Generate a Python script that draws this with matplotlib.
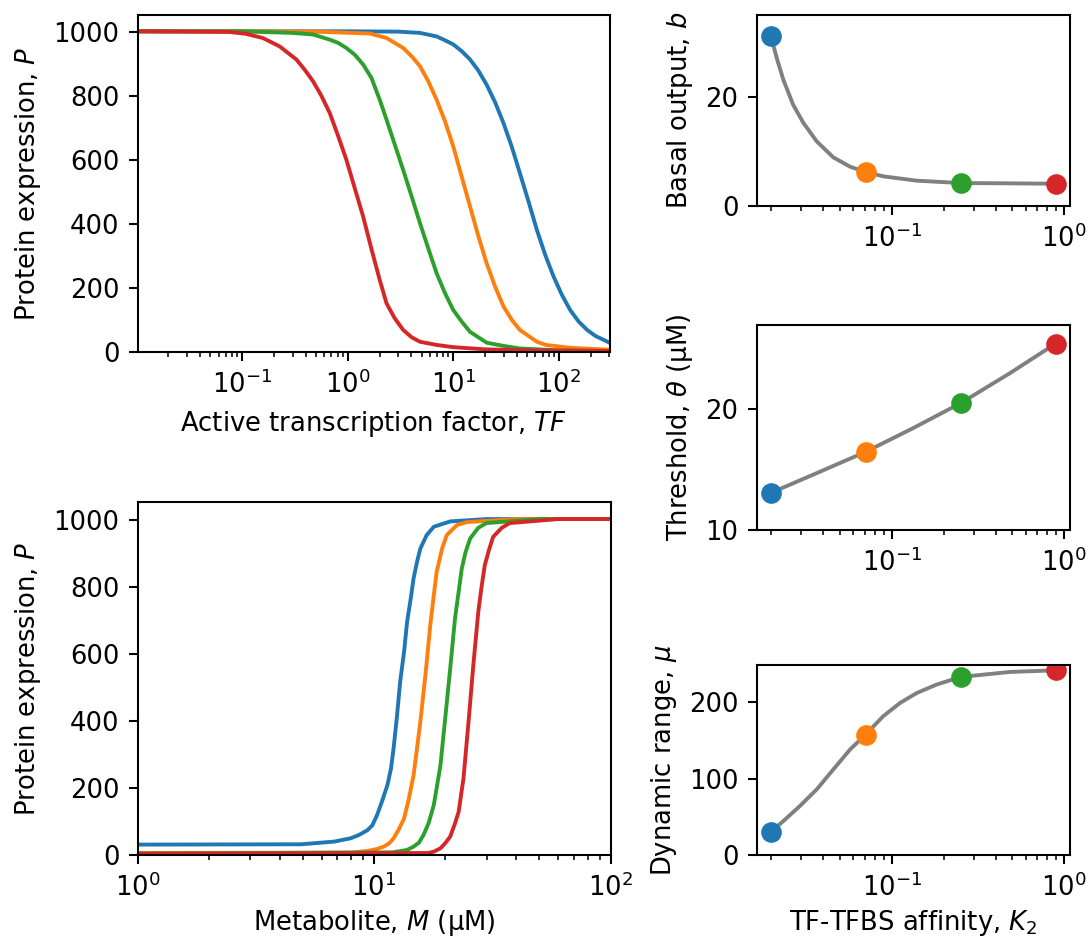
import matplotlib
matplotlib.use("Agg")
import matplotlib.pyplot as plt

# colours of the four TF-TFBS affinities
colors = ["tab:blue", "tab:orange", "tab:green", "tab:red"]

# top left: P vs active TF
tf_blue = [0.01, 0.1, 1.0, 3.0, 4.83, 6.95, 8.34, 10, 12.0, 14.4, 17.3, 20.7, 24.9, 29.9, 35.9, 42.7,
           51.6, 61.8, 74.3, 89.0, 107, 128, 154, 185, 222, 302]
p_tf_blue = [1003, 1003, 1003, 1002, 998, 987, 975, 962, 941, 915, 880, 836, 781, 716, 641, 560,
             471, 383, 304, 237, 179, 132, 96, 70, 51, 30]
tf_orange = [0.01, 0.1, 0.5, 1.62, 2.33, 3.35, 4.03, 4.83, 5.79, 6.95, 8.34, 10, 12.0, 14.4, 17.3,
             20.7, 24.9, 29.9, 35.9, 42.7, 61.8, 75.4, 128, 302]
p_tf_orange = [1003, 1003, 1002, 996, 982, 951, 925, 894, 847, 789, 722, 643, 549, 456, 362,
               278, 205, 143, 101, 70, 33, 23, 14, 8]
tf_green = [0.01, 0.1, 0.3, 0.469, 0.675, 0.809, 0.97, 1.165, 1.40, 1.68, 2.01, 2.33, 2.79, 3.35,
            4.03, 4.83, 5.79, 6.95, 8.34, 10, 12.0, 14.4, 20.7, 29.9, 42.7, 100, 302]
p_tf_green = [1003, 1003, 998, 993, 977, 967, 951, 930, 899, 857, 789, 727, 649, 570,
              487, 404, 325, 247, 185, 132, 96, 64, 30, 20, 12, 6, 4]
tf_red = [0.01, 0.0757, 0.109, 0.157, 0.226, 0.326, 0.391, 0.469, 0.562, 0.675, 0.809, 0.97, 1.165,
          1.40, 1.68, 2.01, 2.33, 2.79, 3.35, 4.03, 4.83, 6.95, 10, 20.7, 61.8, 302]
p_tf_red = [1003, 1001, 995, 982, 956, 915, 883, 847, 802, 748, 677, 602, 513,
            424, 322, 226, 153, 106, 70, 47, 33, 23, 16, 9, 6, 4]

# bottom left: P vs metabolite M (uM)
m_blue = [1, 4.92, 6.79, 7.98, 8.65, 9.38, 9.85, 10.3, 10.8, 11.4, 11.8, 12.1, 12.5, 12.9, 13.4, 13.8,
          14.3, 14.7, 15.2, 15.7, 16.7, 17.9, 21.0, 30, 100]
p_m_blue = [31, 32, 40, 50, 60, 74, 89, 119, 159, 209, 258, 318, 412, 517, 606, 695,
            765, 825, 874, 914, 954, 979, 995, 1002, 1002]
m_orange = [1, 8, 9.4, 10.3, 11.0, 11.6, 12.1, 12.7, 13.4, 14.0, 14.7, 15.2, 15.7, 16.5, 17.3, 17.9,
            18.4, 19.4, 20.3, 22.4, 24.7, 40, 100]
p_m_orange = [6, 7, 12, 18, 25, 35, 50, 75, 109, 164, 238, 318, 397, 537, 686, 775,
              844, 914, 954, 984, 993, 1002, 1002]
m_green = [1, 12, 13.8, 14.7, 15.5, 16.2, 17.0, 17.9, 18.5, 19.1, 20.0, 21.0, 22.0, 22.8, 23.5, 24.4,
           25.5, 27.6, 29.9, 50, 100]
p_m_green = [4, 8, 15, 25, 37, 60, 94, 149, 209, 268, 407, 556, 705, 785, 854, 904,
             944, 976, 990, 1002, 1002]
m_red = [1, 17, 17.9, 19.1, 20.0, 21.0, 22.0, 22.8, 23.9, 25.1, 26.3, 27.6, 28.5, 29.4, 30.6, 31.9,
         34.7, 37.5, 60, 100]
p_m_red = [4, 6, 10, 20, 35, 55, 94, 129, 229, 397, 566, 725, 800, 864, 909, 949,
           976, 990, 1002, 1002]

# right column: features vs K2
k2_points = [0.02, 0.0707, 0.251, 0.892]
basal_points = [31.2, 6.26, 4.23, 4.1]
theta_points = [13.08, 16.47, 20.50, 25.43]
mu_points = [30.9, 157.8, 233.0, 241.7]

k2_basal = [0.02, 0.0216, 0.0236, 0.0269, 0.0308, 0.0368, 0.0459, 0.0574, 0.0707, 0.0894, 0.140, 0.251, 0.484, 0.892]
basal_line = [31.2, 27.2, 23.2, 18.6, 15.3, 11.9, 8.96, 7.24, 6.26, 5.46, 4.66, 4.23, 4.17, 4.1]
k2_theta = [0.02, 0.0368, 0.0707, 0.133, 0.251, 0.484, 0.892]
theta_line = [13.08, 14.71, 16.47, 18.43, 20.50, 22.98, 25.43]
k2_mu = [0.02, 0.0236, 0.0294, 0.0368, 0.0459, 0.0574, 0.0707, 0.0894, 0.112, 0.140, 0.182, 0.251, 0.484, 0.892]
mu_line = [30.9, 44.8, 64.4, 86.1, 112.1, 138.2, 157.8, 181.7, 199.1, 212.1, 223.0, 233.0, 239.5, 241.7]

DPI = 186
W, H = 1090.0, 939.0
fig = plt.figure(figsize=(W / DPI, H / DPI), dpi=DPI)


def rect(x0, x1, y0, y1):
    # pixel box -> figure fraction
    return [x0 / W, (H - y1) / H, (x1 - x0) / W, (y1 - y0) / H]


# top left
ax1 = fig.add_axes(rect(137.5, 610.0, 15.3, 352.3))
for x, y, c in zip([tf_blue, tf_orange, tf_green, tf_red],
                   [p_tf_blue, p_tf_orange, p_tf_green, p_tf_red], colors):
    ax1.plot(x, y, color=c)
ax1.set_xscale("log")
ax1.set_xlim(0.0102, 305)
ax1.set_ylim(0, 1053)
ax1.set_xlabel("Active transcription factor, $TF$")
ax1.set_ylabel("Protein expression, $P$")

# bottom left
ax2 = fig.add_axes(rect(137.5, 610.5, 502.3, 855.0))
for x, y, c in zip([m_blue, m_orange, m_green, m_red],
                   [p_m_blue, p_m_orange, p_m_green, p_m_red], colors):
    ax2.plot(x, y, color=c)
ax2.set_xscale("log")
ax2.set_xlim(1, 100)
ax2.set_ylim(0, 1052)
ax2.set_xlabel("Metabolite, $M$ (µM)", labelpad=2.5)
ax2.set_ylabel("Protein expression, $P$")

# right column
kx = (0.01652, 1.081)
ax3 = fig.add_axes(rect(756.7, 1070.0, 15.3, 206.0))
ax3.plot(k2_basal, basal_line, color="gray")
for k, v, c in zip(k2_points, basal_points, colors):
    ax3.plot(k, v, "o", color=c, ms=7)
ax3.set_xscale("log")
ax3.set_xlim(*kx)
ax3.set_ylim(0, 35.1)
ax3.set_yticks([0, 20])
ax3.set_ylabel("Basal output, $b$")

ax4 = fig.add_axes(rect(756.7, 1070.0, 324.7, 530.0))
ax4.plot(k2_theta, theta_line, color="gray")
for k, v, c in zip(k2_points, theta_points, colors):
    ax4.plot(k, v, "o", color=c, ms=7)
ax4.set_xscale("log")
ax4.set_xlim(*kx)
ax4.set_ylim(10, 27)
ax4.set_yticks([10, 20])
ax4.set_ylabel(r"Threshold, $\theta$ (µM)")

ax5 = fig.add_axes(rect(756.7, 1070.0, 664.7, 855.3))
ax5.plot(k2_mu, mu_line, color="gray")
for k, v, c in zip(k2_points, mu_points, colors):
    ax5.plot(k, v, "o", color=c, ms=7)
ax5.set_xscale("log")
ax5.set_xlim(*kx)
ax5.set_ylim(0, 249)
ax5.set_yticks([0, 100, 200])
ax5.set_ylabel(r"Dynamic range, $\mu$")
ax5.set_xlabel("TF-TFBS affinity, $K_2$", labelpad=2.5)

fig.savefig("out.png", dpi=DPI)
